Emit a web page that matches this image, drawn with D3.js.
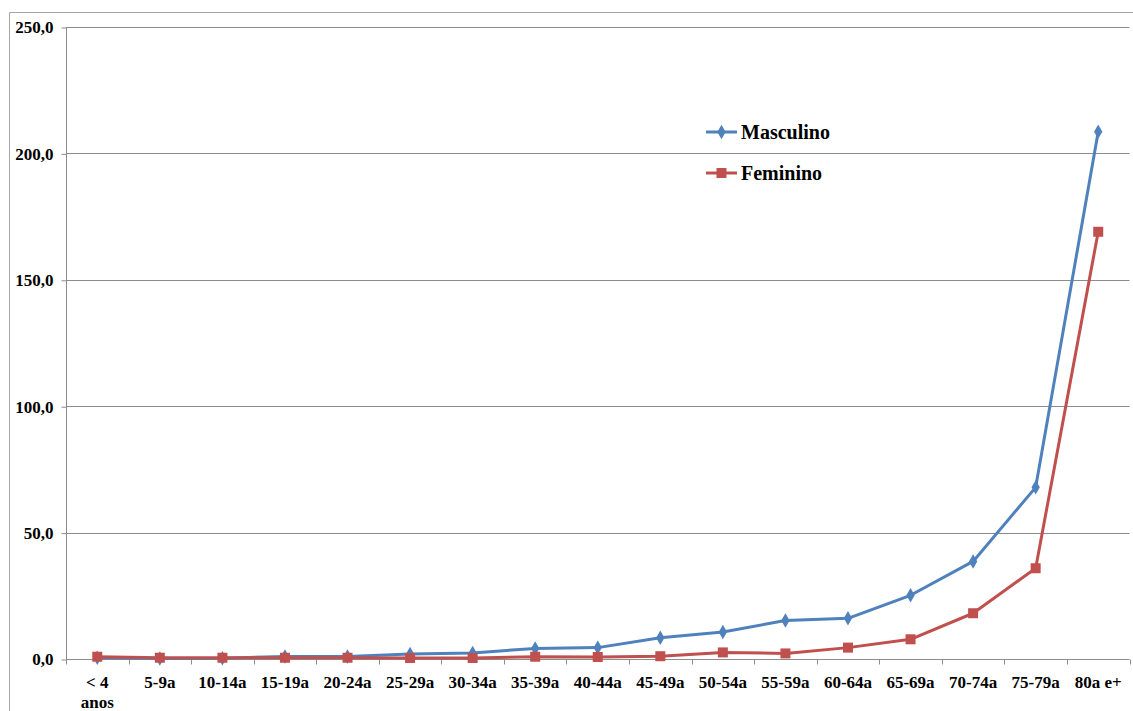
<!DOCTYPE html>
<html><head><meta charset="utf-8">
<script src="https://cdn.jsdelivr.net/npm/d3@7"></script>
<style>html,body{margin:0;padding:0;background:#fff;}svg{display:block;}</style>
</head><body>
<svg id="c" width="1133" height="711"></svg>
<script>
const categories = ["< 4 anos","5-9a","10-14a","15-19a","20-24a","25-29a","30-34a","35-39a","40-44a","45-49a","50-54a","55-59a","60-64a","65-69a","70-74a","75-79a","80a e+"];
const masculino = [0.5,0.2,0.3,1.0,1.0,2.0,2.4,4.2,4.5,8.4,10.7,15.2,16.1,25.2,38.6,67.9,208.6];
const feminino  = [0.9,0.5,0.5,0.5,0.5,0.4,0.4,0.9,0.8,1.1,2.6,2.2,4.5,7.8,18.1,35.9,169.0];
const yTicks = [0,50,100,150,200,250];
const seriesNames = ["Masculino","Feminino"];

const svg = d3.select("#c");
const L = 66, R = 1129.5, T = 27, B = 659;
const ff = '"Liberation Serif"';

// outer frame
svg.append("path").attr("d","M9.5,711 V12.5 H1133").attr("fill","none").attr("stroke","#a6a6a6").attr("stroke-width",1);

const x = d3.scaleBand().domain(categories).range([L,R]).padding(0);
const y = d3.scaleLinear().domain([0,250]).range([B,T]);

// gridlines
svg.append("g").selectAll("line").data(yTicks.filter(d=>d>0)).join("line")
  .attr("x1",L).attr("x2",R).attr("y1",d=>Math.round(y(d))+0.5).attr("y2",d=>Math.round(y(d))+0.5)
  .attr("stroke","#8c8c8c").attr("stroke-width",1);

// y axis
const yAxis = d3.axisLeft(y).tickValues(yTicks).tickSize(5).tickPadding(8)
  .tickFormat(d=>d3.format(".1f")(d).replace(".",","));
const gy = svg.append("g").attr("transform",`translate(${L+0.5},0.5)`).call(yAxis);
gy.attr("font-family",null).attr("font-size",null);
gy.selectAll("path,line").attr("stroke","#8c8c8c");
gy.select(".domain").attr("d",`M0,${T}V${B}`);
gy.selectAll("text").style("font-family",ff).style("font-weight","bold").style("font-size","17px").attr("fill","#000");

// x axis
const gx = svg.append("g").attr("transform",`translate(0,${B+0.5})`);
gx.append("line").attr("x1",L).attr("x2",R).attr("stroke","#8c8c8c");
const bounds = categories.map(c=>x(c)).concat([R]);
gx.selectAll("line.t").data(bounds).join("line").attr("class","t")
  .attr("x1",d=>Math.round(d)+0.5).attr("x2",d=>Math.round(d)+0.5).attr("y1",0).attr("y2",5).attr("stroke","#8c8c8c");
const lbl = gx.selectAll("text").data(categories).join("text")
  .attr("x",d=>x(d)+x.bandwidth()/2).attr("y",28)
  .attr("text-anchor","middle").style("font-family",ff).style("font-weight","bold").style("font-size","17px");
lbl.each(function(d){
  const t = d3.select(this);
  if (d === "< 4 anos") {
    t.append("tspan").attr("x",x(d)+x.bandwidth()/2).text("< 4");
    t.append("tspan").attr("x",x(d)+x.bandwidth()/2).attr("dy",20).text("anos");
  } else t.text(d);
});

const colors = ["#4f81bd","#c0504d"];
const data = [masculino, feminino];
const line = d3.line().x((d,i)=>x(categories[i])+x.bandwidth()/2).y(d=>y(d));

data.forEach((s,k)=>{
  svg.append("path").datum(s).attr("d",line).attr("fill","none").attr("stroke",colors[k]).attr("stroke-width",3).attr("stroke-linejoin","round");
});
// markers
const diamond = d3.symbol().type(d3.symbolDiamond).size(60);
svg.append("g").selectAll("path").data(masculino).join("path")
  .attr("d",diamond).attr("transform",(d,i)=>`translate(${x(categories[i])+x.bandwidth()/2},${y(d)})`).attr("fill",colors[0]);
svg.append("g").selectAll("rect").data(feminino).join("rect")
  .attr("x",(d,i)=>x(categories[i])+x.bandwidth()/2-5).attr("y",d=>y(d)-5).attr("width",10).attr("height",10).attr("fill",colors[1]);

// legend
const lg = svg.append("g");
seriesNames.forEach((n,k)=>{
  const yy = k===0 ? 132 : 173;
  lg.append("line").attr("x1",706).attr("x2",737).attr("y1",yy).attr("y2",yy).attr("stroke",colors[k]).attr("stroke-width",3);
  if (k===0) lg.append("path").attr("d",diamond).attr("transform",`translate(721.5,${yy})`).attr("fill",colors[0]);
  else lg.append("rect").attr("x",716.5).attr("y",yy-5).attr("width",10).attr("height",10).attr("fill",colors[1]);
  lg.append("text").attr("x",741).attr("y",yy+7).style("font-family",ff).style("font-weight","bold").style("font-size","20px").text(n);
});
</script>
</body></html>
